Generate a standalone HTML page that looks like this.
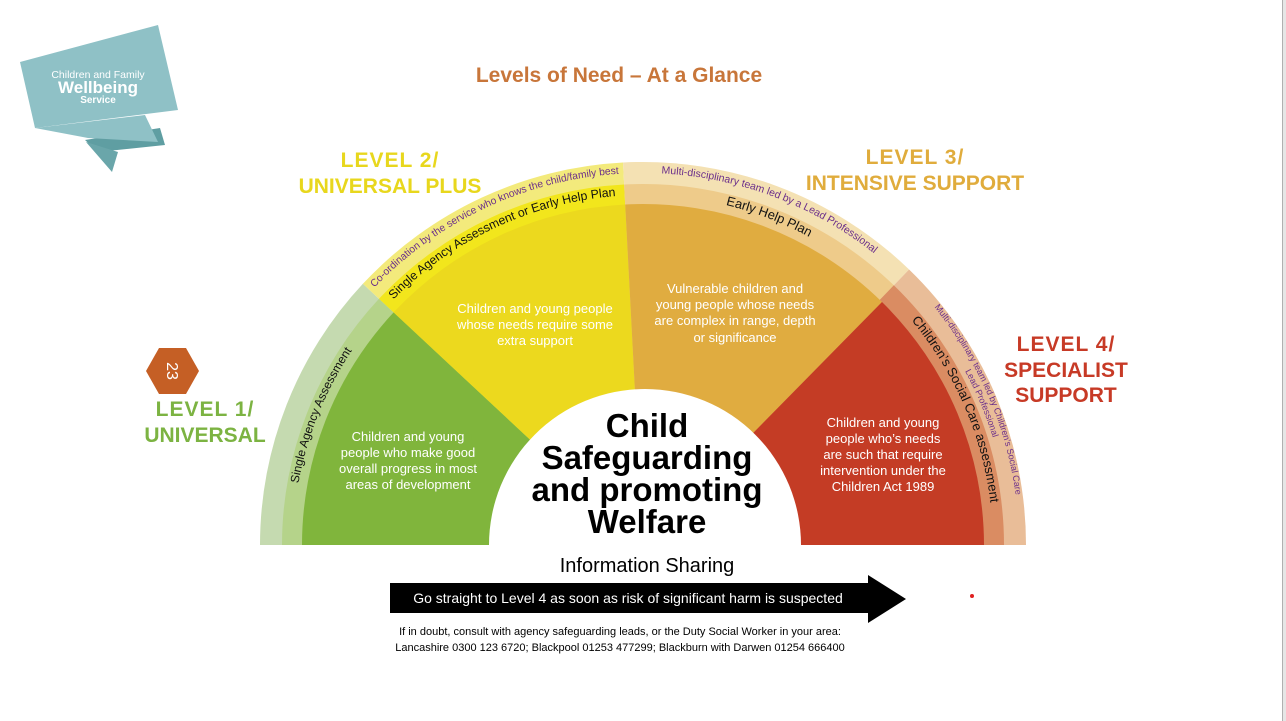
<!DOCTYPE html>
<html><head><meta charset="utf-8"><style>
html,body{margin:0;padding:0;background:#fff;}
body{width:1286px;height:721px;overflow:hidden;position:relative;font-family:"Liberation Sans",Arial,sans-serif;}
</style></head><body>
<svg width="1286" height="721" viewBox="0 0 1286 721" xmlns="http://www.w3.org/2000/svg" style="position:absolute;left:0;top:0;font-family:'Liberation Sans',Arial,sans-serif">
<rect x="1282" y="0" width="4" height="721" fill="#e6e6e6"/>
<rect x="1282" y="0" width="1" height="721" fill="#b0b0b0"/>
<!-- logo -->
<polygon points="85,140 160,128 165,145 98,152" fill="#5f9ea2"/>
<polygon points="86,142 112,172 118,152" fill="#6aa6aa"/>
<polygon points="35,128 145,115 158,142 88,138" fill="#8fc1c6"/>
<polygon points="20,62 158,25 178,110 35,128" fill="#8fc1c6"/>
<text x="98" y="78" font-size="10.5" fill="#fff" text-anchor="middle">Children and Family</text>
<text x="98" y="93" font-size="17" font-weight="bold" fill="#fff" text-anchor="middle">Wellbeing</text>
<text x="98" y="103" font-size="10" font-weight="bold" fill="#fff" text-anchor="middle">Service</text>

<text x="619" y="82" font-size="21" font-weight="bold" fill="#c8763a" text-anchor="middle">Levels of Need – At a Glance</text>

<!-- outer band -->
<path d="M643,545 L260,545 A383,383 0 0 1 362.9,283.8 Z" fill="#c5dab0"/>
<path d="M643,545 L362.9,283.8 A383,383 0 0 1 623,162.5 Z" fill="#f3ea7c"/>
<path d="M643,545 L623,162.5 A383,383 0 0 1 909.1,269.5 Z" fill="#f4e1b3"/>
<path d="M643,545 L909.1,269.5 A383,383 0 0 1 1026,545 Z" fill="#e9bd98"/>
<!-- mid band -->
<path d="M643,545 L282,545 A361,361 0 0 1 379,298.8 Z" fill="#b5d38a"/>
<path d="M643,545 L379,298.8 A361,361 0 0 1 624.1,184.5 Z" fill="#f2e61c"/>
<path d="M643,545 L624.1,184.5 A361,361 0 0 1 893.8,285.3 Z" fill="#eecb8a"/>
<path d="M643,545 L893.8,285.3 A361,361 0 0 1 1004,545 Z" fill="#da8c62"/>
<!-- main -->
<path d="M643,545 L302,545 A341,341 0 0 1 393.6,312.4 Z" fill="#80b53c"/>
<path d="M643,545 L393.6,312.4 A341,341 0 0 1 625.2,204.5 Z" fill="#ecd91e"/>
<path d="M643,545 L625.2,204.5 A341,341 0 0 1 882,302 Z" fill="#e0ac40"/>
<path d="M643,545 L882,302 A341,341 0 0 1 984,545 Z" fill="#c43c25"/>
<circle cx="645" cy="545" r="156" fill="#fff"/>
<rect x="250" y="545" width="800" height="170" fill="#fff"/>

<defs>
<path id="c350" d="M293,545 A350,350 0 0 1 993,545"/>
<path id="c351" d="M292,545 A351,351 0 0 1 994,545"/>
<path id="c366" d="M277,545 A366,366 0 0 1 1009,545"/>
<path id="c372" d="M271,545 A372,372 0 0 1 1015,545"/>
<path id="c376" d="M267,545 A376,376 0 0 1 1019,545"/>
</defs>
<text font-size="12" fill="#111"><textPath href="#c350" startOffset="134" text-anchor="middle">Single Agency Assessment</textPath></text>
<text font-size="10.3" fill="#6b2f8a"><textPath href="#c372" startOffset="422" text-anchor="middle">Co-ordination by the service who knows the child/family best</textPath></text>
<text font-size="12.3" fill="#111"><textPath href="#c350" startOffset="397" text-anchor="middle">Single Agency Assessment or Early Help Plan</textPath></text>
<text font-size="10.5" fill="#6b2f8a"><textPath href="#c372" startOffset="718" text-anchor="middle">Multi-disciplinary team led by a Lead Professional</textPath></text>
<text font-size="13" fill="#111"><textPath href="#c350" startOffset="678" text-anchor="middle">Early Help Plan</textPath></text>
<text font-size="13" fill="#111"><textPath href="#c350" startOffset="956" text-anchor="middle">Children’s Social Care assessment</textPath></text>
<text font-size="9" fill="#6b2f8a"><textPath href="#c376" startOffset="1027" text-anchor="middle">Multi-disciplinary team led by Children’s Social Care</textPath></text>
<text font-size="9" fill="#6b2f8a"><textPath href="#c366" startOffset="1004" text-anchor="middle">Lead Professional</textPath></text>

<g font-size="13" fill="#fff" text-anchor="middle">
<text x="408" y="441">Children and young</text>
<text x="408" y="457">people who make good</text>
<text x="408" y="473">overall progress in most</text>
<text x="408" y="489">areas of development</text>
<text x="535" y="313">Children and young people</text>
<text x="535" y="329">whose needs require some</text>
<text x="535" y="345">extra support</text>
<text x="735" y="293">Vulnerable children and</text>
<text x="735" y="309">young people whose needs</text>
<text x="735" y="325">are complex in range, depth</text>
<text x="735" y="342">or significance</text>
<text x="883" y="427">Children and young</text>
<text x="883" y="443">people who’s needs</text>
<text x="883" y="459">are such that require</text>
<text x="883" y="475">intervention under the</text>
<text x="883" y="491">Children Act 1989</text>
</g>
<g font-size="33" font-weight="bold" fill="#000" text-anchor="middle">
<text x="647" y="437">Child</text>
<text x="647" y="469">Safeguarding</text>
<text x="647" y="501">and promoting</text>
<text x="647" y="533">Welfare</text>
</g>

<g font-weight="bold" text-anchor="middle">
<text x="205" y="416" font-size="21" fill="#7cb342" style="letter-spacing:1px">LEVEL 1/</text>
<text x="205" y="442" font-size="21" fill="#7cb342">UNIVERSAL</text>
<text x="390" y="167" font-size="21" fill="#e8d71d" style="letter-spacing:1px">LEVEL 2/</text>
<text x="390" y="193" font-size="21" fill="#e8d71d">UNIVERSAL PLUS</text>
<text x="915" y="164" font-size="21" fill="#e0ac3c" style="letter-spacing:1px">LEVEL 3/</text>
<text x="915" y="190" font-size="21" fill="#e0ac3c">INTENSIVE SUPPORT</text>
<text x="1066" y="351" font-size="21" fill="#c73a26" style="letter-spacing:1px">LEVEL 4/</text>
<text x="1066" y="377" font-size="21" fill="#c73a26">SPECIALIST</text>
<text x="1066" y="402" font-size="21" fill="#c73a26">SUPPORT</text>
</g>

<polygon points="146,371 159,348 186,348 199,371 186,394 159,394" fill="#c55f25"/>
<text x="0" y="0" font-size="16" fill="#fff" text-anchor="middle" transform="translate(167,371) rotate(90)">23</text>

<text x="647" y="572" font-size="20" fill="#000" text-anchor="middle">Information Sharing</text>
<polygon points="390,583 868,583 868,575 906,599 868,623 868,613 390,613" fill="#000"/>
<text x="628" y="603" font-size="14" fill="#fff" text-anchor="middle">Go straight to Level 4 as soon as risk of significant harm is suspected</text>
<text x="620" y="635" font-size="11" fill="#000" text-anchor="middle">If in doubt, consult with agency safeguarding leads, or the Duty Social Worker in your area:</text>
<text x="620" y="651" font-size="11" fill="#000" text-anchor="middle">Lancashire 0300 123 6720; Blackpool 01253 477299; Blackburn with Darwen 01254 666400</text>
<circle cx="972" cy="596" r="2" fill="#e02020"/>
</svg>
</body></html>
